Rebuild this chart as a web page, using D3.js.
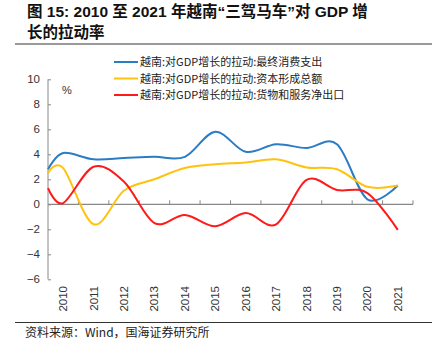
<!DOCTYPE html>
<html><head><meta charset="utf-8">
<script src="https://cdn.jsdelivr.net/npm/d3@7"></script>
<style>
body{margin:0;background:#fff;}
svg{display:block;}
</style></head>
<body><svg id="c" width="432" height="351"></svg>
<script>
const years = ["2010","2011","2012","2013","2014","2015","2016","2017","2018","2019","2020","2021"];
const seriesNames = ["越南:对GDP增长的拉动:最终消费支出","越南:对GDP增长的拉动:资本形成总额","越南:对GDP增长的拉动:货物和服务净出口"];
// value at the left edge of the plot (curve starts at the axis)
const leftEdge = [2.8, 2.5, 1.3];
const consumption = [4.1, 3.6, 3.7, 3.8, 3.8, 5.8, 4.2, 4.8, 4.5, 4.8, 0.4, 1.5];
const capital = [2.9, -1.6, 1.1, 2.0, 2.9, 3.2, 3.35, 3.6, 2.95, 2.8, 1.4, 1.5];
const netExport = [0.1, 3.0, 1.8, -1.5, -0.85, -1.75, -0.7, -1.6, 1.95, 1.15, 0.9, -2.05];
const yTicks = [-6,-4,-2,0,2,4,6,8,10];
const colors = ["#2A7CC4","#FFC20E","#FF1A1A"];

const svg = d3.select("#c");
const font = "Arial, 'Liberation Sans', 'Noto Sans CJK SC', sans-serif";
const cjk = "'Noto Sans CJK SC', sans-serif";

// Title
svg.append("text").attr("x",27).attr("y",17).attr("font-family","Arial, 'Noto Sans CJK SC'").attr("font-weight","bold").attr("font-size",15.5).attr("fill","#111")
  .text("图 15: 2010 至 2021 年越南“三驾马车”对 GDP 增");
svg.append("text").attr("x",27).attr("y",38).attr("font-family","Arial, 'Noto Sans CJK SC'").attr("font-weight","bold").attr("font-size",15.5).attr("fill","#111")
  .text("长的拉动率");
svg.append("line").attr("x1",15).attr("x2",432).attr("y1",44).attr("y2",44).attr("stroke","#999").attr("stroke-width",2);

const x0 = 48, x1 = 413, yTop = 79.3, yBot = 279.3;
const x = d3.scaleLinear().domain([-0.5, 11.5]).range([x0, x1]);
const y = d3.scaleLinear().domain([-6, 10]).range([yBot, yTop]);

// Y axis
const yAxis = d3.axisLeft(y).tickValues(yTicks).tickSize(-3).tickPadding(8).tickFormat(d3.format("d"));
const ga = svg.append("g").attr("transform",`translate(${x0},0)`).call(yAxis);
ga.select(".domain").attr("stroke","#888").attr("d",`M0,${yTop}V${yBot}`);
ga.selectAll(".tick line").attr("stroke","#888");
ga.selectAll(".tick text").attr("font-family",font).attr("font-size",11.5).attr("fill","#333");

// X axis at zero
const xb = d3.scaleBand().domain(years).range([x0, x1]);
const gx = svg.append("g").attr("transform",`translate(0,${y(0)})`);
gx.append("line").attr("x1",x0).attr("x2",x1).attr("stroke","#888").attr("stroke-width",1.2);
gx.selectAll("line.t").data(years).enter().append("line").attr("class","t")
  .attr("x1",d=>xb(d)+xb.bandwidth()).attr("x2",d=>xb(d)+xb.bandwidth()).attr("y1",0).attr("y2",-4).attr("stroke","#888");
svg.selectAll("text.xl").data(years).enter().append("text").attr("class","xl")
  .attr("transform",d=>`translate(${xb(d)+xb.bandwidth()/2+4},286) rotate(-90)`)
  .attr("text-anchor","end").attr("font-family",font).attr("font-size",11.5).attr("fill","#333").text(d=>d);

// % label
svg.append("text").attr("x",62).attr("y",94).attr("font-family",font).attr("font-size",11).attr("fill","#333").text("%");

// Lines
const series = [consumption, capital, netExport];
const line = d3.line().x(d=>x(d[0])).y(d=>y(d[1])).curve(d3.curveCardinal.tension(0));
series.forEach((s,i)=>{
  const pts = [[-0.5, leftEdge[i]]].concat(s.map((v,j)=>[j,v]));
  svg.append("path").attr("d",line(pts)).attr("fill","none").attr("stroke",colors[i]).attr("stroke-width",2);
});

// Legend
const ly = [62, 78.5, 95];
seriesNames.forEach((n,i)=>{
  svg.append("line").attr("x1",114).attr("x2",138).attr("y1",ly[i]).attr("y2",ly[i]).attr("stroke",colors[i]).attr("stroke-width",2);
  svg.append("text").attr("x",140).attr("y",ly[i]+4).attr("font-family",cjk).attr("font-size",11).attr("fill","#222").text(n);
});

// Bottom rule and source
svg.append("line").attr("x1",15).attr("x2",432).attr("y1",322.5).attr("y2",322.5).attr("stroke","#333").attr("stroke-width",1);
svg.append("text").attr("x",25).attr("y",337).attr("font-family",cjk).attr("font-size",12).attr("fill","#222").text("资料来源：Wind，国海证券研究所");
</script></body></html>
